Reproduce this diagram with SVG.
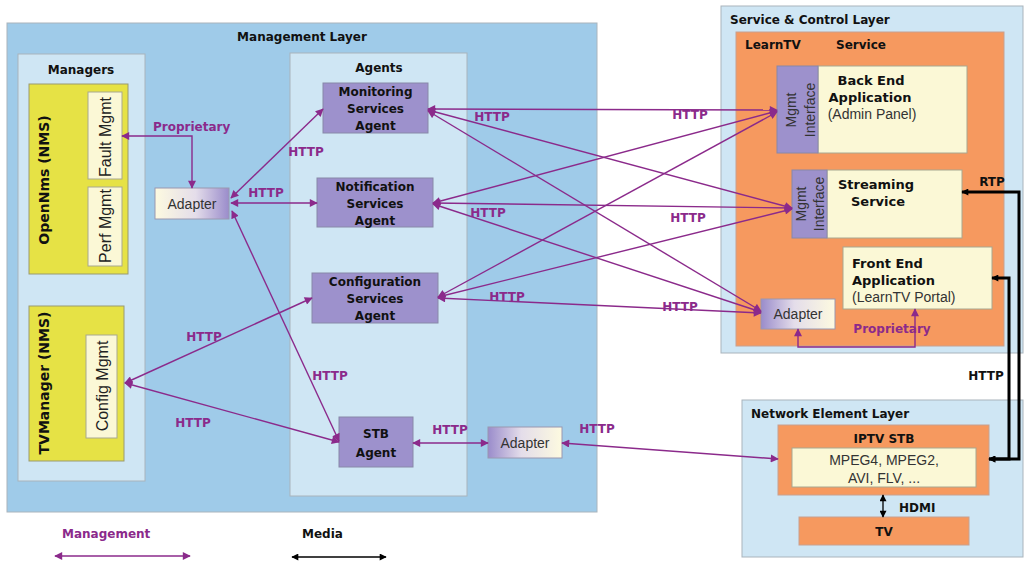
<svg xmlns="http://www.w3.org/2000/svg" width="1024" height="563" viewBox="0 0 1024 563">
<defs>
<linearGradient id="gL" x1="0" y1="0" x2="1" y2="0"><stop offset="0" stop-color="#fdfae0"/><stop offset="0.55" stop-color="#e4ddea"/><stop offset="1" stop-color="#9a8ccb"/></linearGradient>
<linearGradient id="gR" x1="0" y1="0" x2="1" y2="0"><stop offset="0" stop-color="#9a8ccb"/><stop offset="0.45" stop-color="#e4ddea"/><stop offset="1" stop-color="#fdfae0"/></linearGradient>
<marker id="ap" viewBox="0 0 10 10" refX="9" refY="5" markerWidth="10" markerHeight="8" markerUnits="userSpaceOnUse" orient="auto-start-reverse"><path d="M0,0 L10,5 L0,10 z" fill="#8b2a8b"/></marker>
<marker id="ab" viewBox="0 0 10 10" refX="9" refY="5" markerWidth="9" markerHeight="7" markerUnits="userSpaceOnUse" orient="auto-start-reverse"><path d="M0,0 L10,5 L0,10 z" fill="#000"/></marker>
</defs>
<style>
.layer{fill:#9fcbe9;stroke:#a9b4bc;stroke-width:1}
.pale{fill:#cfe6f4;stroke:#a9b4bc;stroke-width:1}
.yel{fill:#e6e245;stroke:#9a9a70;stroke-width:1}
.cream{fill:#fbf8d6;stroke:#a8a890;stroke-width:1}
.agent{fill:#9d91cc;stroke:#8888a8;stroke-width:1}
.orange{fill:#f6995f;stroke:#c8a090;stroke-width:1}
.adp{stroke:#9a98b0;stroke-width:1}
.b{font-family:"DejaVu Sans",sans-serif;font-weight:bold;font-size:12px;fill:#111}
.b13{font-family:"DejaVu Sans",sans-serif;font-weight:bold;font-size:13px;fill:#111}
.bv{font-family:"DejaVu Sans",sans-serif;font-weight:bold;font-size:14px;fill:#111}
.n{font-family:"Liberation Sans",Arial,sans-serif;font-size:14px;fill:#333}
.nv{font-family:"Liberation Sans",Arial,sans-serif;font-size:16px;fill:#222}
.h{font-family:"DejaVu Sans",sans-serif;font-weight:bold;font-size:12px;fill:#8b2a8b}
.c{text-anchor:middle}
.pl{fill:none;stroke:#8b2a8b;stroke-width:1.4;marker-start:url(#ap);marker-end:url(#ap)}
.bl{fill:none;stroke:#000;stroke-width:3;marker-start:url(#ab);marker-end:url(#ab)}
.bl1{fill:none;stroke:#000;stroke-width:1.3;marker-start:url(#ab);marker-end:url(#ab)}
</style>
<rect width="1024" height="563" fill="#fff"/>

<g id="management-layer">
<rect class="layer" x="7" y="23" width="590" height="489"/>
<text class="b c" x="302" y="41">Management Layer</text>
</g>
<g id="managers">
<rect class="pale" x="18" y="54" width="127" height="427"/>
<text class="b c" x="81" y="74">Managers</text>
</g>
<g id="opennms">
<rect class="yel" x="29" y="84" width="99" height="190"/>
<text class="bv c" transform="translate(49,180) rotate(-90)">OpenNms (NMS)</text>
</g>
<g id="fault-mgmt">
<rect class="cream" x="88" y="92" width="34" height="87"/>
<text class="nv c" transform="translate(111,137) rotate(-90)">Fault Mgmt</text>
</g>
<g id="perf-mgmt">
<rect class="cream" x="88" y="187" width="34" height="79"/>
<text class="nv c" transform="translate(111,226) rotate(-90)">Perf Mgmt</text>
</g>
<g id="tvmanager">
<rect class="yel" x="29" y="306" width="95" height="155"/>
<text class="bv c" transform="translate(49,383) rotate(-90)">TVManager (NMS)</text>
</g>
<g id="config-mgmt">
<rect class="cream" x="86" y="335" width="31" height="103"/>
<text class="nv c" transform="translate(108,386) rotate(-90)">Config Mgmt</text>
</g>
<g id="adapter-left">
<rect class="adp" x="155" y="188" width="74" height="31" fill="url(#gL)"/>
<text class="n c" x="192" y="209">Adapter</text>
</g>

<g id="agents">
<rect class="pale" x="290" y="53" width="177" height="443"/>
<text class="b c" x="379" y="72">Agents</text>
</g>
<g id="monitoring-agent">
<rect class="agent" x="323" y="83" width="105" height="50"/>
<text class="b c" x="375.5" y="96">Monitoring</text>
<text class="b c" x="375.5" y="113">Services</text>
<text class="b c" x="375.5" y="130">Agent</text>
</g>
<g id="notification-agent">
<rect class="agent" x="317" y="178" width="116" height="49"/>
<text class="b c" x="375" y="191">Notification</text>
<text class="b c" x="375" y="208">Services</text>
<text class="b c" x="375" y="225">Agent</text>
</g>
<g id="configuration-agent">
<rect class="agent" x="312" y="273" width="126" height="50"/>
<text class="b c" x="375" y="286">Configuration</text>
<text class="b c" x="375" y="303">Services</text>
<text class="b c" x="375" y="320">Agent</text>
</g>
<g id="stb-agent">
<rect class="agent" x="339" y="417" width="74" height="50"/>
<text class="b c" x="376" y="438">STB</text>
<text class="b c" x="376" y="457">Agent</text>
</g>
<g id="adapter-mid">
<rect class="adp" x="488" y="427" width="74" height="31" fill="url(#gR)"/>
<text class="n c" x="525" y="448">Adapter</text>
</g>

<g id="service-control-layer">
<rect class="pale" x="721" y="6" width="302" height="347"/>
<text class="b" x="730" y="24">Service &amp; Control Layer</text>
</g>
<g id="learntv-service">
<rect class="orange" x="736" y="32" width="268" height="314"/>
<text class="b" x="745" y="49">LearnTV</text>
<text class="b" x="836" y="49">Service</text>
</g>
<g id="backend">
<rect class="cream" x="818" y="66" width="149" height="87"/>
<rect class="agent" x="777" y="66" width="41" height="87"/>
<text class="n c" transform="translate(796,110) rotate(-90)">Mgmt</text>
<text class="n c" transform="translate(815,110) rotate(-90)">Interface</text>
<text class="b13 c" x="871" y="85">Back End</text>
<text class="b13 c" x="870" y="102">Application</text>
<text class="n c" x="872" y="119">(Admin Panel)</text>
</g>
<g id="streaming">
<rect class="cream" x="827" y="170" width="135" height="68"/>
<text class="b13 c" x="876" y="189">Streaming</text>
<text class="b13 c" x="878" y="206">Service</text>
<rect class="agent" x="792" y="170" width="35" height="68"/>
<text class="n c" transform="translate(806,204) rotate(-90)">Mgmt</text>
<text class="n c" transform="translate(824,204) rotate(-90)">Interface</text>
</g>
<g id="frontend">
<rect class="cream" x="843" y="247" width="149" height="62"/>
<text class="b13" x="852" y="268">Front End</text>
<text class="b13" x="852" y="285">Application</text>
<text class="n" x="852" y="302">(LearnTV Portal)</text>
</g>
<g id="adapter-right">
<rect class="adp" x="761" y="299" width="74" height="30" fill="url(#gR)"/>
<text class="n c" x="798" y="319">Adapter</text>
</g>

<g id="network-element-layer">
<rect class="pale" x="742" y="400" width="281" height="157"/>
<text class="b" x="751" y="418">Network Element Layer</text>
</g>
<g id="iptv-stb">
<rect class="orange" x="778" y="425" width="211" height="70"/>
<text class="b c" x="884" y="443">IPTV STB</text>
<rect class="cream" x="792" y="448" width="184" height="39"/>
<text class="n c" x="884" y="465">MPEG4, MPEG2,</text>
<text class="n c" x="884" y="483">AVI, FLV, ...</text>
</g>
<g id="tv">
<rect class="orange" x="799" y="517" width="170" height="28"/>
<text class="b c" x="884" y="536">TV</text>
</g>

<g id="connectors">
<path class="pl" d="M122,136 H192 V188"/>
<path class="pl" d="M231,198 L323,109"/>
<path class="pl" d="M231,203 L317,203"/>
<path class="pl" d="M232,211 L339,441"/>
<path class="pl" d="M125,383 L312,298"/>
<path class="pl" d="M125,383 L339,442"/>
<path class="pl" d="M413,443 L488,443"/>
<path class="pl" d="M562,443 L778,459"/>
<path class="pl" d="M428,109 L777,110"/>
<path class="pl" d="M428,110 L792,208"/>
<path class="pl" d="M428,111 L761,311"/>
<path class="pl" d="M433,203 L777,111"/>
<path class="pl" d="M433,203 L792,208"/>
<path class="pl" d="M433,204 L761,312"/>
<path class="pl" d="M438,297 L777,112"/>
<path class="pl" d="M438,297 L792,209"/>
<path class="pl" d="M438,298 L761,313"/>
<path class="pl" d="M798,329 V347 H915 V309"/>
<path class="bl" d="M962,192 H1019 V459 H989"/>
<path class="bl" d="M992,278 H1009 V459 H989"/>
<path class="bl1" d="M883,495 V517"/>
<text class="h" x="153" y="131">Proprietary</text>
<text class="h c" x="306" y="156">HTTP</text>
<text class="h c" x="266" y="197">HTTP</text>
<text class="h c" x="330" y="380">HTTP</text>
<text class="h c" x="204" y="341">HTTP</text>
<text class="h c" x="193" y="427">HTTP</text>
<text class="h c" x="450" y="434">HTTP</text>
<text class="h c" x="597" y="433">HTTP</text>
<text class="h c" x="492" y="121">HTTP</text>
<text class="h c" x="690" y="119">HTTP</text>
<text class="h c" x="488" y="217">HTTP</text>
<text class="h c" x="688" y="222">HTTP</text>
<text class="h c" x="507" y="301">HTTP</text>
<text class="h c" x="680" y="311">HTTP</text>
<text class="h c" x="892" y="333">Proprietary</text>
<text class="b c" x="992" y="186">RTP</text>
<text class="b c" x="986" y="380">HTTP</text>
<text class="b" x="899" y="512">HDMI</text>
</g>

<g id="legend">
<text class="h" x="62" y="538">Management</text>
<path class="pl" d="M55,556 H190"/>
<text class="b" x="302" y="538">Media</text>
<path class="bl1" d="M292,557 H386"/>
</g>
</svg>
